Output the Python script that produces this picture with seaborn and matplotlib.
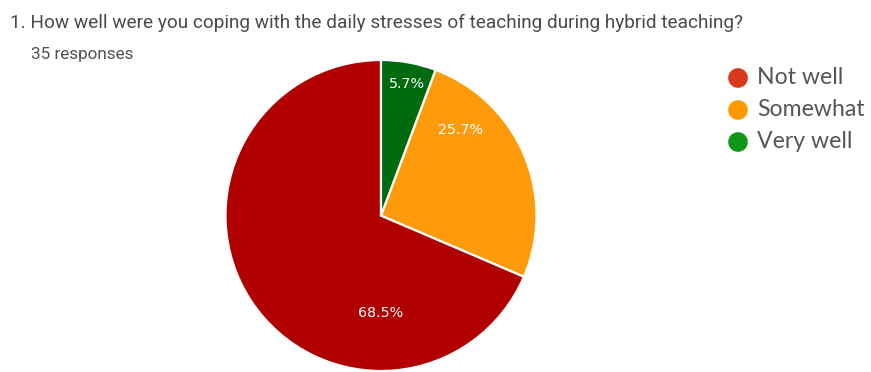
import matplotlib
matplotlib.use("Agg")
import matplotlib.pyplot as plt
import seaborn as sns
import numpy as np

# Survey answers
categories = ["Not well", "Somewhat", "Very well"]
percentages = [68.5, 25.7, 5.7]
pct_labels = ["68.5%", "25.7%", "5.7%"]
title_text = "1. How well were you coping with the daily stresses of teaching during hybrid teaching?"
subtitle_text = "35 responses"

# Styling
slice_colors = ["#b10000", "#ff9b0a", "#006b0e"]
legend_colors = ["#d8391a", "#ff9900", "#109618"]
# where each percentage label sits inside its wedge (angle in degrees, radius fraction)
label_angles = [270, 47, 79]
label_radii = [0.63, 0.75, 0.86]

sns.set_theme(style="white")
plt.rcParams["font.family"] = ["Roboto", "DejaVu Sans"]

W, H = 871, 372
fig = plt.figure(figsize=(W / 100, H / 100), dpi=100)
fig.patch.set_facecolor("white")

# pie axes: centre (381, 215.5) px, radius 155.5 px
cx, cy, r = 381, 215.5, 155.5
ax = fig.add_axes([(cx - r) / W, (H - cy - r) / H, 2 * r / W, 2 * r / H])
wedges, _ = ax.pie(
    percentages,
    colors=slice_colors,
    startangle=90,
    counterclock=True,
    wedgeprops=dict(edgecolor="white", linewidth=1.6),
)
ax.set_xlim(-1, 1)
ax.set_ylim(-1, 1)
ax.set_aspect("equal")
ax.axis("off")
for w in wedges:
    w.set_clip_on(False)

for lab, ang, rad in zip(pct_labels, label_angles, label_radii):
    t = np.deg2rad(ang)
    ax.text(rad * np.cos(t), rad * np.sin(t), lab, ha="center", va="center",
            color="white", fontsize=10.3, family=["DejaVu Sans"])

# title and response count
fig.text(10 / W, 1 - 28 / H, title_text, ha="left", va="baseline",
         fontsize=13.7, color="#4a4a4a")
fig.text(31 / W, 1 - 59 / H, subtitle_text, ha="left", va="baseline",
         fontsize=12.3, color="#505050")

# legend
leg_ax = fig.add_axes([0, 0, 1, 1], facecolor="none")
leg_ax.set_xlim(0, W)
leg_ax.set_ylim(H, 0)
leg_ax.axis("off")
leg_y = [78, 110, 142]
for lab, col, y in zip(categories, legend_colors, leg_y):
    leg_ax.scatter([738], [y], s=200, color=col, edgecolor="none")
    leg_ax.text(757, y, lab, ha="left", va="center", fontsize=16.6,
                color="#555555", family=["Lato", "DejaVu Sans"])

fig.savefig("out.png", dpi=100, facecolor="white")
